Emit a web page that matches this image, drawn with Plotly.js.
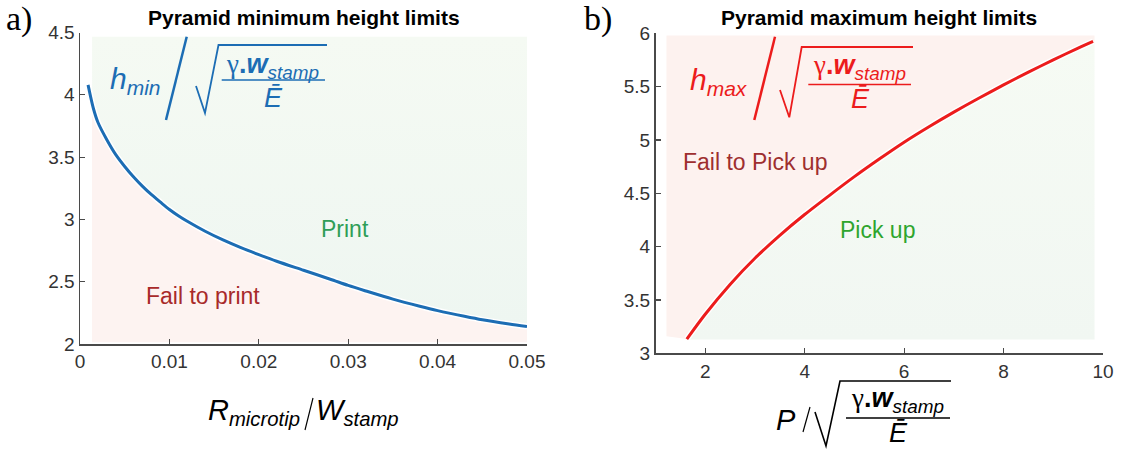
<!DOCTYPE html>
<html>
<head>
<meta charset="utf-8">
<script src="https://cdn.plot.ly/plotly-3.0.1.min.js"></script>
<style>html,body{margin:0;padding:0;background:#fff;}#chart{width:1122px;height:452px;}</style>
</head>
<body>
<div id="chart"></div>
<script>
// ---- data ----
const minX = [0.0009, 0.0015, 0.002, 0.003, 0.004, 0.005, 0.006, 0.007, 0.008, 0.009, 0.010, 0.011, 0.012, 0.014, 0.016, 0.018, 0.020, 0.022, 0.025, 0.028, 0.030, 0.032, 0.035, 0.038, 0.040, 0.043, 0.045, 0.048, 0.050];
const minH = [4.08, 3.89, 3.78, 3.64, 3.52, 3.425, 3.34, 3.265, 3.198, 3.138, 3.08, 3.03, 2.985, 2.905, 2.835, 2.773, 2.717, 2.664, 2.592, 2.52, 2.47, 2.425, 2.36, 2.303, 2.268, 2.222, 2.194, 2.16, 2.14];
const maxX = [1.63, 2.0, 2.5, 3.0, 3.5, 4.0, 4.5, 5.0, 5.5, 6.0, 6.5, 7.0, 7.5, 8.0, 8.5, 9.0, 9.5, 9.8];
const maxH = [3.133, 3.366, 3.646, 3.891, 4.106, 4.301, 4.481, 4.656, 4.821, 4.979, 5.124, 5.261, 5.391, 5.516, 5.636, 5.751, 5.861, 5.924];
const xTicksA = [0, 0.01, 0.02, 0.03, 0.04, 0.05];
const yTicksA = [2, 2.5, 3, 3.5, 4, 4.5];
const xTicksB = [2, 4, 6, 8, 10];
const yTicksB = [3, 3.5, 4, 4.5, 5, 5.5, 6];
// shaded region extents
const regA = {x0: 0.00135, x1: 0.05, top: 4.465, bottom: 2.015};
const regB = {x0: 1.22, x1: 9.83, top: 5.98, pinkBottom: 3.16, greenBottom: 3.13};

// ---- helpers ----
const W = 1122, H = 452;
const px = x => x / W, py = y => 1 - y / H;
function interp(xs, ys, x) {
  for (let i = 0; i < xs.length - 1; i++) {
    if (x >= xs[i] && x <= xs[i + 1]) {
      const t = (x - xs[i]) / (xs[i + 1] - xs[i]);
      return ys[i] + t * (ys[i + 1] - ys[i]);
    }
  }
  return ys[0];
}

const BLUE = '#1c6db4', RED = '#ec1c1c';
const FONT = 'Liberation Sans, Arial, sans-serif';
const SERIF = 'Liberation Serif, Times New Roman, serif';

// Left fills
const aStartY = interp(minX, minH, regA.x0);
const aCx = [regA.x0], aCy = [aStartY];
minX.forEach((x, i) => { if (x > regA.x0) { aCx.push(x); aCy.push(minH[i]); } });

const greenA = {
  x: aCx.concat([regA.x1, regA.x0]),
  y: aCy.concat([regA.top, regA.top]),
  xaxis: 'x', yaxis: 'y', mode: 'lines', fill: 'toself', line: {width: 0},
  fillgradient: {type: 'vertical', colorscale: [[0, '#eef6f1'], [1, '#f5faf3']]},
  hoverinfo: 'skip', showlegend: false
};
const pinkA = {
  x: [regA.x0].concat(aCx, [regA.x1]),
  y: [regA.bottom].concat(aCy, [regA.bottom]),
  xaxis: 'x', yaxis: 'y', mode: 'lines', fill: 'toself', line: {width: 0},
  fillcolor: '#fdf3f1', hoverinfo: 'skip', showlegend: false
};
const haloA = {x: minX, y: minH, xaxis: 'x', yaxis: 'y', mode: 'lines',
  line: {color: '#ffffff', width: 6, shape: 'spline', smoothing: 0.8}, hoverinfo: 'skip', showlegend: false};
const lineA = {x: minX, y: minH, xaxis: 'x', yaxis: 'y', mode: 'lines',
  line: {color: BLUE, width: 3, shape: 'spline', smoothing: 0.8}, showlegend: false};

// Right fills
const bEndY = maxH[maxH.length - 1];
const pinkB = {
  x: [regB.x0, regB.x0, regB.x1, regB.x1].concat(maxX.slice().reverse()),
  y: [regB.pinkBottom, regB.top, regB.top, bEndY].concat(maxH.slice().reverse()),
  xaxis: 'x2', yaxis: 'y2', mode: 'lines', fill: 'toself', line: {width: 0},
  fillcolor: '#fdf2ef', hoverinfo: 'skip', showlegend: false
};
const greenB = {
  x: maxX.concat([regB.x1, regB.x1, maxX[0]]),
  y: maxH.concat([bEndY, regB.greenBottom, regB.greenBottom]),
  xaxis: 'x2', yaxis: 'y2', mode: 'lines', fill: 'toself', line: {width: 0},
  fillgradient: {type: 'vertical', colorscale: [[0, '#f1f7f2'], [1, '#f6fbf4']]},
  hoverinfo: 'skip', showlegend: false
};
const haloB = {x: maxX, y: maxH, xaxis: 'x2', yaxis: 'y2', mode: 'lines',
  line: {color: '#ffffff', width: 6, shape: 'spline', smoothing: 0.8}, hoverinfo: 'skip', showlegend: false};
const lineB = {x: maxX, y: maxH, xaxis: 'x2', yaxis: 'y2', mode: 'lines',
  line: {color: RED, width: 3, shape: 'spline', smoothing: 0.8}, showlegend: false};

const axisCommon = {
  showgrid: false, zeroline: false, showline: true, linecolor: '#4a4a4a', linewidth: 1.5,
  ticks: 'inside', ticklen: 5, tickwidth: 1.2, tickcolor: '#4a4a4a',
  tickfont: {family: FONT, size: 19, color: '#333333'}, fixedrange: true
};

function ann(text, x, y, size, color, opts) {
  return Object.assign({text: text, x: px(x), y: py(y), xref: 'paper', yref: 'paper',
    showarrow: false, xanchor: 'center', yanchor: 'middle',
    font: {family: FONT, size: size, color: color}}, opts || {});
}
function lineShape(x0, y0, x1, y1, color, w) {
  return {type: 'line', xref: 'paper', yref: 'paper', x0: px(x0), y0: py(y0), x1: px(x1), y1: py(y1),
    line: {color: color, width: w}};
}
function pathShape(pts, color, w) {
  const d = pts.map((p, i) => (i ? 'L' : 'M') + px(p[0]) + ',' + py(p[1])).join(' ');
  return {type: 'path', xref: 'paper', yref: 'paper', path: d, line: {color: color, width: w}};
}
const numer = '<span style="font-family:Liberation Serif">γ</span><b>.</b><b><i>w</i></b><sub><i>stamp</i></sub>';

const annotations = [
  ann('a)', 4, 19, 34, '#000', {xanchor: 'left', font: {family: SERIF, size: 34, color: '#000'}}),
  ann('b)', 582, 19, 34, '#000', {xanchor: 'left', font: {family: SERIF, size: 34, color: '#000'}}),
  ann('<b>Pyramid minimum height limits</b>', 303.5, 18, 21, '#000'),
  ann('<b>Pyramid maximum height limits</b>', 879, 18, 21, '#000'),
  // left formula
  ann('<i>h<sub>min</sub></i>', 108, 80, 30, BLUE, {xanchor: 'left'}),
  ann(numer, 272, 66, 27, BLUE),
  ann('<i>Ē</i>', 273, 98, 27, BLUE),
  // right formula
  ann('<i>h<sub>max</sub></i>', 688, 82, 30, RED, {xanchor: 'left'}),
  ann(numer, 859, 67, 27, RED),
  ann('<i>Ē</i>', 860, 99, 27, RED),
  // region labels
  ann('Print', 345, 229, 23, '#2f9e57'),
  ann('Fail to print', 203, 296, 23, '#a82a2a'),
  ann('Fail to Pick up', 755, 162, 23, '#9e2f2f'),
  ann('Pick up', 877, 230, 23, '#2ea52e'),
  // axis titles
  ann('<i>R<sub>microtip</sub></i>', 302, 412, 29, '#000', {xanchor: 'right'}),
  ann('<i>W<sub>stamp</sub></i>', 314, 412, 29, '#000', {xanchor: 'left'}),
  ann('<i>P</i>', 786, 420, 29, '#000'),
  ann(numer, 897, 400, 27, '#000'),
  ann('<i>Ē</i>', 898, 433, 27, '#000')
];

const shapes = [
  // left formula
  lineShape(186.7, 36.7, 166, 120, BLUE, 2.5),
  pathShape([[196, 86], [205, 113], [218.5, 45], [327, 45]], BLUE, 1.8),
  lineShape(221.7, 80, 325, 80, BLUE, 1.5),
  // right formula
  lineShape(775, 36.7, 754.3, 120, RED, 2.5),
  pathShape([[780, 90], [789.3, 117.3], [801.7, 47], [913, 47]], RED, 1.8),
  lineShape(808.3, 84.5, 911, 84.5, RED, 1.5),
  // left x-axis title slash
  lineShape(313, 398, 305, 430, '#000', 1.2),
  // right x-axis title slash + radical
  lineShape(810, 407, 803, 432, '#000', 1.2),
  pathShape([[815, 412], [826, 446], [840, 381], [951, 381]], '#000', 1.6),
  lineShape(846, 418, 950, 418, '#000', 1.3)
];

const layout = {
  width: W, height: H, margin: {l: 0, r: 0, t: 0, b: 0},
  paper_bgcolor: '#ffffff', plot_bgcolor: 'rgba(0,0,0,0)', showlegend: false,
  xaxis: Object.assign({}, axisCommon, {domain: [px(80), px(527)], range: [0, 0.05], tickvals: xTicksA, anchor: 'y'}),
  yaxis: Object.assign({}, axisCommon, {domain: [py(344), py(32.5)], range: [2, 4.5], tickvals: yTicksA, anchor: 'x'}),
  xaxis2: Object.assign({}, axisCommon, {domain: [px(655.5), px(1103)], range: [1, 10], tickvals: xTicksB, anchor: 'y2'}),
  yaxis2: Object.assign({}, axisCommon, {domain: [py(353.3), py(33.3)], range: [3, 6], tickvals: yTicksB, anchor: 'x2'}),
  annotations: annotations, shapes: shapes
};

Plotly.newPlot('chart', [pinkA, greenA, haloA, lineA, pinkB, greenB, haloB, lineB], layout,
  {staticPlot: true, displayModeBar: false});
</script>
</body>
</html>
